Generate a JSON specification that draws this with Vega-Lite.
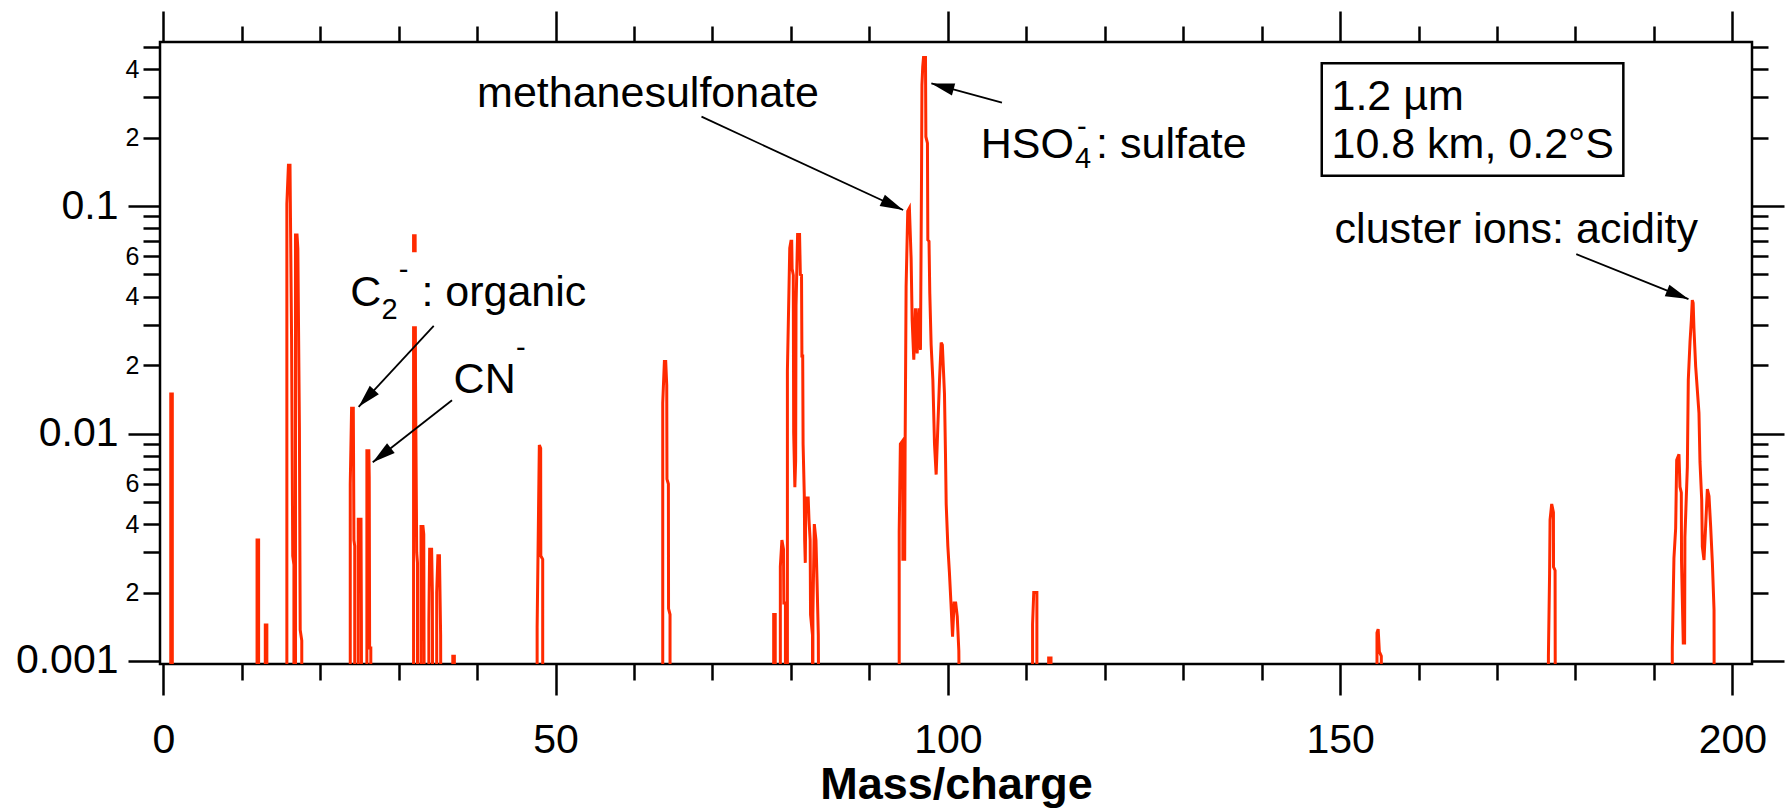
{
  "$schema": "https://vega.github.io/schema/vega-lite/v6.json",
  "width": 1592,
  "height": 622,
  "autosize": {"type": "none"},
  "padding": {"left": 160, "top": 42, "right": 33, "bottom": 148},
  "background": "white",
  "config": {
    "view": {"stroke": "black", "strokeWidth": 2.5},
    "axis": {"domain": false, "grid": false, "tickColor": "black", "tickWidth": 2.5, "labelColor": "black", "labelFont": "Liberation Sans", "titleFont": "Liberation Sans", "titleColor": "black"},
    "text": {"font": "Liberation Sans"}
  },
  "datasets": {
    "spectrum": [
      {"mz":0.95,"signal":0.0002},{"mz":0.95,"signal":0.0149},{"mz":1.15,"signal":0.0149},{"mz":1.15,"signal":0.0002},
      {"mz":11.95,"signal":0.0002},{"mz":11.95,"signal":0.0034},{"mz":12.15,"signal":0.0034},{"mz":12.15,"signal":0.0002},
      {"mz":13.0,"signal":0.0002},{"mz":13.0,"signal":0.00144},{"mz":13.2,"signal":0.00144},{"mz":13.2,"signal":0.0002},
      {"mz":15.75,"signal":0.0002},{"mz":15.75,"signal":0.102},{"mz":15.95,"signal":0.151},{"mz":16.15,"signal":0.151},{"mz":16.35,"signal":0.0265},{"mz":16.5,"signal":0.0029},{"mz":16.65,"signal":0.00265},{"mz":16.65,"signal":0.0002},
      {"mz":16.85,"signal":0.0002},{"mz":16.85,"signal":0.0745},{"mz":17.05,"signal":0.0745},{"mz":17.15,"signal":0.065},{"mz":17.35,"signal":0.0106},{"mz":17.45,"signal":0.00137},{"mz":17.65,"signal":0.00123},{"mz":17.65,"signal":0.0002},
      {"mz":23.83,"signal":0.0002},{"mz":23.83,"signal":0.006},{"mz":24.0,"signal":0.0129},{"mz":24.22,"signal":0.0129},{"mz":24.3,"signal":0.0034},{"mz":24.4,"signal":0.0032},{"mz":24.4,"signal":0.0002},
      {"mz":24.85,"signal":0.0002},{"mz":24.85,"signal":0.0042},{"mz":25.2,"signal":0.0042},{"mz":25.25,"signal":0.0015},{"mz":25.3,"signal":0.0002},
      {"mz":25.95,"signal":0.0002},{"mz":25.95,"signal":0.0084},{"mz":26.2,"signal":0.0084},{"mz":26.25,"signal":0.0064},{"mz":26.3,"signal":0.00114},{"mz":26.45,"signal":0.00114},{"mz":26.45,"signal":0.0002},
      {"mz":31.9,"signal":0.0002},{"mz":31.9,"signal":0.074},{"mz":32.1,"signal":0.074},{"mz":32.15,"signal":0.0169},{"mz":32.3,"signal":0.003},{"mz":32.4,"signal":0.0027},{"mz":32.4,"signal":0.0002},
      {"mz":32.85,"signal":0.0002},{"mz":32.85,"signal":0.0039},{"mz":33.1,"signal":0.0039},{"mz":33.2,"signal":0.0036},{"mz":33.3,"signal":0.0002},
      {"mz":33.85,"signal":0.0002},{"mz":33.85,"signal":0.0015},{"mz":33.95,"signal":0.0031},{"mz":34.2,"signal":0.0031},{"mz":34.3,"signal":0.002},{"mz":34.35,"signal":0.0002},
      {"mz":34.85,"signal":0.0002},{"mz":34.85,"signal":0.002},{"mz":35.0,"signal":0.0029},{"mz":35.2,"signal":0.0029},{"mz":35.35,"signal":0.0013},{"mz":35.4,"signal":0.0002},
      {"mz":36.9,"signal":0.0002},{"mz":36.9,"signal":0.00105},{"mz":37.1,"signal":0.00105},{"mz":37.1,"signal":0.0002},
      {"mz":47.65,"signal":0.0002},{"mz":47.65,"signal":0.0014},{"mz":47.93,"signal":0.0089},{"mz":48.1,"signal":0.0086},{"mz":48.12,"signal":0.0029},{"mz":48.36,"signal":0.0028},{"mz":48.36,"signal":0.0002},
      {"mz":63.66,"signal":0.0002},{"mz":63.66,"signal":0.0136},{"mz":63.87,"signal":0.0207},{"mz":64.04,"signal":0.0207},{"mz":64.17,"signal":0.0163},{"mz":64.2,"signal":0.0063},{"mz":64.38,"signal":0.006},{"mz":64.4,"signal":0.0017},{"mz":64.59,"signal":0.0016},{"mz":64.59,"signal":0.0002},
      {"mz":77.8,"signal":0.0002},{"mz":77.8,"signal":0.0016},{"mz":78.0,"signal":0.0016},{"mz":78.0,"signal":0.0002},
      {"mz":78.65,"signal":0.0002},{"mz":78.65,"signal":0.0026},{"mz":78.85,"signal":0.0034},{"mz":79.05,"signal":0.0031},{"mz":79.1,"signal":0.0018},{"mz":79.3,"signal":0.0018},{"mz":79.3,"signal":0.0002},
      {"mz":79.55,"signal":0.0002},{"mz":79.55,"signal":0.0188},{"mz":79.7,"signal":0.035},{"mz":79.85,"signal":0.0653},{"mz":80.0,"signal":0.07},{"mz":80.1,"signal":0.07},{"mz":80.15,"signal":0.053},{"mz":80.3,"signal":0.0497},{"mz":80.35,"signal":0.0101},{"mz":80.5,"signal":0.0058},{"mz":80.6,"signal":0.0076},{"mz":80.65,"signal":0.0365},{"mz":80.85,"signal":0.075},{"mz":81.1,"signal":0.075},{"mz":81.2,"signal":0.05},{"mz":81.35,"signal":0.0497},{"mz":81.4,"signal":0.0219},{"mz":81.5,"signal":0.0219},{"mz":81.55,"signal":0.009},{"mz":81.7,"signal":0.0054},{"mz":81.75,"signal":0.0034},{"mz":81.83,"signal":0.0027},{"mz":81.9,"signal":0.0052},{"mz":82.2,"signal":0.0052},{"mz":82.3,"signal":0.0042},{"mz":82.45,"signal":0.0034},{"mz":82.5,"signal":0.0016},{"mz":82.75,"signal":0.0013},{"mz":82.75,"signal":0.0002},
      {"mz":82.8,"signal":0.0002},{"mz":82.8,"signal":0.0016},{"mz":82.98,"signal":0.004},{"mz":83.19,"signal":0.0034},{"mz":83.32,"signal":0.0023},{"mz":83.49,"signal":0.0013},{"mz":83.6,"signal":0.0002},
      {"mz":93.8,"signal":0.0002},{"mz":93.8,"signal":0.0037},{"mz":93.95,"signal":0.009},{"mz":94.25,"signal":0.0093},{"mz":94.27,"signal":0.0028},{"mz":94.5,"signal":0.0028},{"mz":94.55,"signal":0.0081},{"mz":94.68,"signal":0.0442},{"mz":94.89,"signal":0.095},{"mz":95.1,"signal":0.098},{"mz":95.32,"signal":0.0587},{"mz":95.45,"signal":0.0316},{"mz":95.66,"signal":0.0211},{"mz":95.87,"signal":0.0355},{"mz":96.09,"signal":0.0225},{"mz":96.3,"signal":0.0355},{"mz":96.51,"signal":0.0233},{"mz":96.65,"signal":0.144},{"mz":96.7,"signal":0.34},{"mz":96.8,"signal":0.41},{"mz":96.9,"signal":0.45},{"mz":97.15,"signal":0.45},{"mz":97.2,"signal":0.2017},{"mz":97.4,"signal":0.189},{"mz":97.45,"signal":0.0709},{"mz":97.6,"signal":0.07},{"mz":97.7,"signal":0.0413},{"mz":97.87,"signal":0.0246},{"mz":98.09,"signal":0.0172},{"mz":98.3,"signal":0.009},{"mz":98.51,"signal":0.0066},{"mz":98.72,"signal":0.0106},{"mz":98.94,"signal":0.0172},{"mz":99.15,"signal":0.0251},{"mz":99.3,"signal":0.0245},{"mz":99.57,"signal":0.015},{"mz":99.7,"signal":0.0081},{"mz":99.79,"signal":0.0049},{"mz":100.0,"signal":0.0032},{"mz":100.2,"signal":0.00245},{"mz":100.4,"signal":0.00179},{"mz":100.6,"signal":0.00128},{"mz":100.8,"signal":0.0018},{"mz":101.0,"signal":0.0018},{"mz":101.2,"signal":0.00157},{"mz":101.4,"signal":0.00111},{"mz":101.6,"signal":0.0002},
      {"mz":110.8,"signal":0.0002},{"mz":110.8,"signal":0.00145},{"mz":110.95,"signal":0.002},{"mz":111.35,"signal":0.002},{"mz":111.35,"signal":0.0002},
      {"mz":112.85,"signal":0.0002},{"mz":112.85,"signal":0.00103},{"mz":113.15,"signal":0.00103},{"mz":113.15,"signal":0.0002},
      {"mz":154.7,"signal":0.0002},{"mz":154.7,"signal":0.00133},{"mz":154.85,"signal":0.00138},{"mz":155.0,"signal":0.0011},{"mz":155.25,"signal":0.00105},{"mz":155.25,"signal":0.0002},
      {"mz":176.55,"signal":0.0002},{"mz":176.55,"signal":0.00105},{"mz":176.7,"signal":0.00243},{"mz":176.76,"signal":0.00417},{"mz":176.97,"signal":0.0049},{"mz":177.19,"signal":0.0045},{"mz":177.2,"signal":0.00259},{"mz":177.4,"signal":0.0025},{"mz":177.45,"signal":0.0002},
      {"mz":192.34,"signal":0.0002},{"mz":192.34,"signal":0.00114},{"mz":192.55,"signal":0.00283},{"mz":192.77,"signal":0.00383},{"mz":192.9,"signal":0.00765},{"mz":193.19,"signal":0.0081},{"mz":193.32,"signal":0.00583},{"mz":193.49,"signal":0.0055},{"mz":193.52,"signal":0.0027},{"mz":193.74,"signal":0.0012},{"mz":193.91,"signal":0.0012},{"mz":193.95,"signal":0.0035},{"mz":194.26,"signal":0.00713},{"mz":194.38,"signal":0.0172},{"mz":194.6,"signal":0.0253},{"mz":194.77,"signal":0.0315},{"mz":194.89,"signal":0.0386},{"mz":195.0,"signal":0.0375},{"mz":195.1,"signal":0.029},{"mz":195.32,"signal":0.0197},{"mz":195.74,"signal":0.0123},{"mz":195.87,"signal":0.0075},{"mz":196.09,"signal":0.0051},{"mz":196.17,"signal":0.00318},{"mz":196.38,"signal":0.00278},{"mz":196.6,"signal":0.00396},{"mz":196.81,"signal":0.0057},{"mz":197.02,"signal":0.0053},{"mz":197.23,"signal":0.0039},{"mz":197.45,"signal":0.0027},{"mz":197.66,"signal":0.00168},{"mz":197.7,"signal":0.0002}
    ],
    "labels": [
      {"mz":40.0,"signal":0.272,"text":"methanesulfonate"},
      {"mz":104.2,"signal":0.1626,"text":"HSO"},
      {"mz":118.9,"signal":0.1626,"text":": sulfate"},
      {"mz":23.83,"signal":0.0364,"text":"C"},
      {"mz":32.9,"signal":0.0364,"text":": organic"},
      {"mz":37.0,"signal":0.0151,"text":"CN"},
      {"mz":149.3,"signal":0.0686,"text":"cluster ions: acidity"},
      {"mz":148.9,"signal":0.264,"text":"1.2 µm"},
      {"mz":148.9,"signal":0.162,"text":"10.8 km, 0.2°S"}
    ],
    "scripts": [
      {"mz":27.8,"signal":0.0319,"text":"2"},
      {"mz":30.0,"signal":0.0476,"text":"-"},
      {"mz":44.95,"signal":0.0216,"text":"-"},
      {"mz":116.2,"signal":0.147,"text":"4"},
      {"mz":116.45,"signal":0.204,"text":"-"}
    ],
    "arrows": [
      {"id":"msa","mz":68.6,"signal":0.247,"mz2":94.3,"signal2":0.096},
      {"id":"hso4","mz":106.9,"signal":0.285,"mz2":97.9,"signal2":0.346},
      {"id":"c2","mz":34.47,"signal":0.0297,"mz2":24.9,"signal2":0.0131},
      {"id":"cn","mz":36.8,"signal":0.014,"mz2":26.7,"signal2":0.00747},
      {"id":"cluster","mz":180.1,"signal":0.0614,"mz2":194.4,"signal2":0.039}
    ],
    "box": [{"mz":147.66,"signal":0.1359,"mz2":186.1,"signal2":0.4237}],
    "labelbg": [{"mz":23.6,"signal":0.0296,"mz2":54.5,"signal2":0.0626}]
  },
  "layer": [
    {
      "data": {"name": "spectrum"},
      "mark": {"type": "line", "color": "#ff2a00", "strokeWidth": 3, "clip": true},
      "encoding": {
        "x": {"field": "mz", "type": "quantitative", "scale": {"type": "linear", "domain": [-0.42, 202.5], "nice": false, "zero": false},
          "axis": {"orient": "bottom", "values": [0, 50, 100, 150, 200], "tickSize": 31, "labelFontSize": 41, "labelPadding": 57, "labelBaseline": "alphabetic", "labelFlush": false, "labelOverlap": false, "labelBound": false, "format": "d",
            "title": "Mass/charge", "titleFontSize": 45, "titleFontWeight": "bold", "titleX": 796, "titleY": 134, "titleBaseline": "alphabetic", "titleAlign": "center"}},
        "y": {"field": "signal", "type": "quantitative", "scale": {"type": "log", "domain": [0.00097, 0.526], "nice": false},
          "axis": {"orient": "left", "values": [0.001, 0.01, 0.1], "tickSize": 32, "labelFontSize": 41, "labelPadding": 10, "labelBaseline": "middle", "labelOverlap": false, "labelFlush": false, "title": null,
            "labelExpr": "datum.value < 0.005 ? '0.001' : datum.value < 0.05 ? '0.01' : '0.1'"}}
      }
    },
    {
      "data": {"name": "labelbg"},
      "mark": {"type": "rect", "fill": "white", "stroke": null},
      "encoding": {
        "x": {"field": "mz", "type": "quantitative", "scale": {"type": "linear", "domain": [-0.42, 202.5], "nice": false, "zero": false},
          "axis": {"orient": "bottom", "values": [10, 20, 30, 40, 60, 70, 80, 90, 110, 120, 130, 140, 160, 170, 180, 190], "tickSize": 16, "labels": false, "title": null}},
        "x2": {"field": "mz2"},
        "y": {"field": "signal", "type": "quantitative", "scale": {"type": "log", "domain": [0.00097, 0.526], "nice": false},
          "axis": {"orient": "left", "values": [0.002, 0.003, 0.004, 0.005, 0.006, 0.007, 0.008, 0.009, 0.02, 0.03, 0.04, 0.05, 0.06, 0.07, 0.08, 0.09, 0.2, 0.3, 0.4, 0.5], "tickSize": 17, "labelFontSize": 25, "labelPadding": 4, "labelBaseline": "middle", "labelOverlap": false, "labelFlush": false, "title": null,
            "labelExpr": "datum.value == 0.002 || datum.value == 0.02 || datum.value == 0.2 ? '2' : datum.value == 0.004 || datum.value == 0.04 || datum.value == 0.4 ? '4' : datum.value == 0.006 || datum.value == 0.06 ? '6' : ''"}},
        "y2": {"field": "signal2"}
      }
    },
    {
      "data": {"name": "box"},
      "mark": {"type": "rect", "fill": "white", "stroke": "black", "strokeWidth": 2.5},
      "encoding": {
        "x": {"field": "mz", "type": "quantitative", "scale": {"type": "linear", "domain": [-0.42, 202.5], "nice": false, "zero": false},
          "axis": {"orient": "top", "values": [0, 50, 100, 150, 200], "tickSize": 31, "labels": false, "title": null}},
        "x2": {"field": "mz2"},
        "y": {"field": "signal", "type": "quantitative", "scale": {"type": "log", "domain": [0.00097, 0.526], "nice": false},
          "axis": {"orient": "right", "values": [0.001, 0.01, 0.1], "tickSize": 32, "labels": false, "title": null}},
        "y2": {"field": "signal2"}
      }
    },
    {
      "data": {"name": "arrows"},
      "mark": {"type": "rule", "color": "black", "strokeWidth": 1.8},
      "encoding": {
        "x": {"field": "mz", "type": "quantitative", "scale": {"type": "linear", "domain": [-0.42, 202.5], "nice": false, "zero": false},
          "axis": {"orient": "top", "values": [10, 20, 30, 40, 60, 70, 80, 90, 110, 120, 130, 140, 160, 170, 180, 190], "tickSize": 16, "labels": false, "title": null}},
        "x2": {"field": "mz2"},
        "y": {"field": "signal", "type": "quantitative", "scale": {"type": "log", "domain": [0.00097, 0.526], "nice": false},
          "axis": {"orient": "right", "values": [0.002, 0.003, 0.004, 0.005, 0.006, 0.007, 0.008, 0.009, 0.02, 0.03, 0.04, 0.05, 0.06, 0.07, 0.08, 0.09, 0.2, 0.3, 0.4, 0.5], "tickSize": 16, "labels": false, "title": null}},
        "y2": {"field": "signal2"}
      }
    },
    {
      "data": {"name": "arrows"},
      "transform": [{"filter": "datum.id == 'msa'"}],
      "mark": {"type": "point", "shape": "M0,0L-1,-0.27L-1,0.27Z", "size": 2116, "filled": true, "color": "black", "opacity": 1, "strokeWidth": 0, "angle": 24.9},
      "encoding": {
        "x": {"field": "mz2", "type": "quantitative", "scale": {"type": "linear", "domain": [-0.42, 202.5], "nice": false, "zero": false}, "axis": null},
        "y": {"field": "signal2", "type": "quantitative", "scale": {"type": "log", "domain": [0.00097, 0.526], "nice": false}, "axis": null}
      }
    },
    {
      "data": {"name": "arrows"},
      "transform": [{"filter": "datum.id == 'hso4'"}],
      "mark": {"type": "point", "shape": "M0,0L-1,-0.27L-1,0.27Z", "size": 2116, "filled": true, "color": "black", "opacity": 1, "strokeWidth": 0, "angle": 195.2},
      "encoding": {
        "x": {"field": "mz2", "type": "quantitative", "scale": {"type": "linear", "domain": [-0.42, 202.5], "nice": false, "zero": false}, "axis": null},
        "y": {"field": "signal2", "type": "quantitative", "scale": {"type": "log", "domain": [0.00097, 0.526], "nice": false}, "axis": null}
      }
    },
    {
      "data": {"name": "arrows"},
      "transform": [{"filter": "datum.id == 'c2'"}],
      "mark": {"type": "point", "shape": "M0,0L-1,-0.27L-1,0.27Z", "size": 2116, "filled": true, "color": "black", "opacity": 1, "strokeWidth": 0, "angle": 132.9},
      "encoding": {
        "x": {"field": "mz2", "type": "quantitative", "scale": {"type": "linear", "domain": [-0.42, 202.5], "nice": false, "zero": false}, "axis": null},
        "y": {"field": "signal2", "type": "quantitative", "scale": {"type": "log", "domain": [0.00097, 0.526], "nice": false}, "axis": null}
      }
    },
    {
      "data": {"name": "arrows"},
      "transform": [{"filter": "datum.id == 'cn'"}],
      "mark": {"type": "point", "shape": "M0,0L-1,-0.27L-1,0.27Z", "size": 2116, "filled": true, "color": "black", "opacity": 1, "strokeWidth": 0, "angle": 141.9},
      "encoding": {
        "x": {"field": "mz2", "type": "quantitative", "scale": {"type": "linear", "domain": [-0.42, 202.5], "nice": false, "zero": false}, "axis": null},
        "y": {"field": "signal2", "type": "quantitative", "scale": {"type": "log", "domain": [0.00097, 0.526], "nice": false}, "axis": null}
      }
    },
    {
      "data": {"name": "arrows"},
      "transform": [{"filter": "datum.id == 'cluster'"}],
      "mark": {"type": "point", "shape": "M0,0L-1,-0.27L-1,0.27Z", "size": 2116, "filled": true, "color": "black", "opacity": 1, "strokeWidth": 0, "angle": 21.8},
      "encoding": {
        "x": {"field": "mz2", "type": "quantitative", "scale": {"type": "linear", "domain": [-0.42, 202.5], "nice": false, "zero": false}, "axis": null},
        "y": {"field": "signal2", "type": "quantitative", "scale": {"type": "log", "domain": [0.00097, 0.526], "nice": false}, "axis": null}
      }
    },
    {
      "data": {"name": "labels"},
      "mark": {"type": "text", "align": "left", "baseline": "alphabetic", "fontSize": 43, "font": "Liberation Sans", "color": "black"},
      "encoding": {
        "x": {"field": "mz", "type": "quantitative", "scale": {"type": "linear", "domain": [-0.42, 202.5], "nice": false, "zero": false}, "axis": null},
        "y": {"field": "signal", "type": "quantitative", "scale": {"type": "log", "domain": [0.00097, 0.526], "nice": false}, "axis": null},
        "text": {"field": "text"}
      }
    },
    {
      "data": {"name": "scripts"},
      "mark": {"type": "text", "align": "left", "baseline": "alphabetic", "fontSize": 29, "font": "Liberation Sans", "color": "black"},
      "encoding": {
        "x": {"field": "mz", "type": "quantitative", "scale": {"type": "linear", "domain": [-0.42, 202.5], "nice": false, "zero": false}, "axis": null},
        "y": {"field": "signal", "type": "quantitative", "scale": {"type": "log", "domain": [0.00097, 0.526], "nice": false}, "axis": null},
        "text": {"field": "text"}
      }
    }
  ],
  "resolve": {"scale": {"x": "shared", "y": "shared"}, "axis": {"x": "independent", "y": "independent"}}
}
